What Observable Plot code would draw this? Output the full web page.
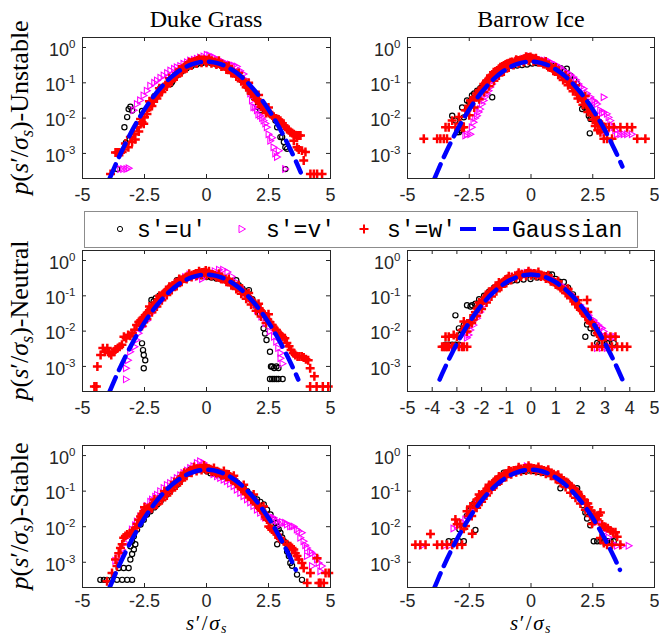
<!DOCTYPE html>
<html>
<head>
<meta charset="utf-8">
<script src="https://cdn.jsdelivr.net/npm/d3@7"></script>
<script src="https://cdn.jsdelivr.net/npm/@observablehq/plot@0.6"></script>
<style>
html,body{margin:0;padding:0;background:#fff;}
#root{position:relative;width:659px;height:638px;overflow:hidden;background:#fff;}
#overlay{position:absolute;left:0;top:0;pointer-events:none;}
</style>
</head>
<body>
<div id="root"></div>
<script>
// ---------- labels / ticks ----------
const colTitles = ["Duke Grass", "Barrow Ice"];
const rowNames = ["Unstable", "Neutral", "Stable"];
const xTicksA = [-5, -2.5, 0, 2.5, 5];
const xTickLabelsA = ["-5", "-2.5", "0", "2.5", "5"];
const xTicksB = [-5, -4, -3, -2, -1, 0, 1, 2, 3, 4, 5];
const xTickLabelsB = ["-5", "-4", "-3", "-2", "-1", "0", "1", "2", "3", "4", "5"];
const yTicks = [1e-3, 1e-2, 1e-1, 1];
const yTickLabels = ["10^-3", "10^-2", "10^-1", "10^0"];
const legendLabels = ["s'=u'", "s'=v'", "s'=w'", "Gaussian"];

// ---------- Gaussian reference curve ----------
const gaussX = [-3.9,-3.8,-3.7,-3.6,-3.4,-3.2,-3.0,-2.8,-2.6,-2.4,-2.2,-2.0,-1.8,-1.6,-1.4,-1.2,-1.0,-0.8,-0.6,-0.4,-0.2,0,0.2,0.4,0.6,0.8,1.0,1.2,1.4,1.6,1.8,2.0,2.2,2.4,2.6,2.8,3.0,3.2,3.4,3.6,3.7,3.8,3.9];
const gaussY = [1.99e-4,2.92e-4,4.25e-4,6.12e-4,1.23e-3,2.38e-3,4.43e-3,7.92e-3,1.36e-2,2.24e-2,3.55e-2,5.40e-2,7.90e-2,0.111,0.150,0.194,0.242,0.290,0.333,0.368,0.391,0.399,0.391,0.368,0.333,0.290,0.242,0.194,0.150,0.111,7.90e-2,5.40e-2,3.55e-2,2.24e-2,1.36e-2,7.92e-3,4.43e-3,2.38e-3,1.23e-3,6.12e-4,4.25e-4,2.92e-4,1.99e-4];
const gaussRanges = { tl: [-3.9, 3.8], tr: [-3.9, 3.7], ml: [-3.9, 3.7], mr: [-3.7, 3.8], bl: [-3.9, 3.6], br: [-3.9, 3.6] };

// ---------- Duke Grass, Unstable ----------
const tlU = [[-3.6,3.6e-4],[-3.31,5.5e-3],[-3.2,1.07e-2],[-3.14,1.8e-2],[-3.07,2.1e-2],[-3.0,1.65e-2],[-3.1,2.5e-3],[-3.25,2.0e-3],[-2.6,1.6e-2],[-2.3,2.6e-2],[-2.1,4.2e-2],[-1.86,7.2e-2],[-1.72,7.9e-2],[-1.45,9.3e-2],[-1.39,0.105],[-1.2,0.16],[-1.0,0.21],[-0.8,0.26],[-0.6,0.3],[-0.4,0.33],[-0.2,0.36],[0,0.37],[0.2,0.36],[0.4,0.33],[0.6,0.31],[0.8,0.27],[1.0,0.22],[1.2,0.17],[1.4,0.12],[1.6,0.08],[1.75,0.055],[1.9,0.039],[2.04,0.021],[2.17,0.0166],[2.38,0.018],[2.51,0.0148],[2.64,0.0118],[2.78,0.0085],[2.85,0.0055],[2.98,0.0029],[3.05,0.0029],[3.12,0.0021],[3.18,0.0015],[3.25,0.00135],[3.18,3.6e-4]];
const tlV = [[-3.47,3.6e-4],[-3.35,3.6e-4],[-3.22,3.6e-4],[-3.13,3.8e-4],[-2.93,0.0166],[-2.8,0.025],[-2.67,0.032],[-2.53,0.044],[-2.4,0.06],[-2.26,0.083],[-2.1,0.1],[-1.99,0.117],[-1.85,0.14],[-1.72,0.162],[-1.58,0.19],[-1.45,0.224],[-1.3,0.25],[-1.19,0.275],[-1.05,0.3],[-0.92,0.347],[-0.78,0.38],[-0.65,0.427],[-0.5,0.45],[-0.38,0.479],[-0.25,0.52],[-0.11,0.56],[0.02,0.62],[0.12,0.6],[0.29,0.54],[0.42,0.47],[0.56,0.427],[0.7,0.38],[0.83,0.347],[0.96,0.33],[1.1,0.31],[1.23,0.288],[1.36,0.22],[1.5,0.178],[1.6,0.12],[1.7,0.093],[1.77,0.05],[1.84,0.0316],[1.9,0.0204],[1.97,0.02],[2.04,0.0166],[2.1,0.0126],[2.17,0.0117],[2.25,0.01],[2.31,0.0085],[2.38,0.007],[2.44,0.0055],[2.51,0.0035],[2.58,0.0023],[2.65,0.0028],[2.71,0.0015],[2.78,0.001],[2.85,7.9e-4],[2.92,0.0012],[3.18,3.6e-4]];
const tlW = [[-3.87,2.6e-4],[-3.67,1.07e-3],[-3.6,1.07e-3],[-3.54,1.07e-3],[-3.4,1.1e-3],[-3.34,1.3e-3],[-3.27,1.9e-3],[-3.15,1.5e-3],[-3.07,2.9e-3],[-3.0,2.1e-3],[-2.93,3.5e-3],[-2.87,2.5e-3],[-2.8,5.5e-3],[-2.73,4.2e-3],[-2.66,6.9e-3],[-2.6,7.6e-3],[-2.53,6.9e-3],[-2.66,9.5e-3],[-2.5,0.0105],[-2.4,0.0166],[-2.33,0.02],[-2.26,0.025],[-2.2,0.029],[-2.13,0.035],[-2.06,0.04],[-1.99,0.044],[-1.92,0.05],[-1.86,0.06],[-1.79,0.068],[-1.72,0.076],[-1.65,0.085],[-1.59,0.093],[-1.52,0.105],[-1.45,0.117],[-1.38,0.13],[-1.32,0.15],[-1.25,0.165],[-1.19,0.186],[-1.12,0.2],[-1.05,0.234],[-0.98,0.25],[-0.92,0.275],[-0.85,0.29],[-0.78,0.32],[-0.72,0.34],[-0.65,0.363],[-0.58,0.38],[-0.51,0.398],[-0.44,0.41],[-0.38,0.427],[-0.31,0.43],[-0.25,0.427],[-0.18,0.44],[-0.11,0.447],[-0.05,0.43],[0.02,0.427],[0.09,0.44],[0.16,0.407],[0.22,0.42],[0.29,0.38],[0.36,0.39],[0.43,0.363],[0.5,0.355],[0.56,0.331],[0.63,0.32],[0.7,0.302],[0.77,0.29],[0.83,0.275],[0.9,0.25],[0.96,0.234],[1.03,0.215],[1.1,0.2],[1.17,0.186],[1.23,0.174],[1.3,0.155],[1.37,0.138],[1.44,0.125],[1.5,0.112],[1.57,0.095],[1.64,0.083],[1.7,0.072],[1.77,0.063],[1.84,0.055],[1.9,0.049],[1.97,0.041],[2.04,0.035],[2.1,0.03],[2.17,0.026],[2.24,0.023],[2.31,0.0204],[2.38,0.0178],[2.44,0.0155],[2.51,0.014],[2.58,0.0132],[2.65,0.012],[2.71,0.0107],[2.78,0.0098],[2.85,0.0095],[2.91,0.0091],[2.98,0.0085],[3.05,0.0072],[3.12,0.0062],[3.18,0.0058],[3.25,0.005],[3.32,0.0045],[3.38,0.004],[3.45,0.0038],[3.52,0.0035],[3.58,0.0033],[3.65,0.0032],[3.72,0.0032],[3.79,0.0032],[3.52,0.0023],[3.65,0.0015],[3.72,0.0013],[3.85,0.0012],[3.99,0.0011],[3.92,6.3e-4],[4.19,2.6e-4],[4.33,2.6e-4],[4.46,2.6e-4],[4.66,2.6e-4]];
const tlW2 = [[-2.4,0.013],[-2.2,0.022],[-2.0,0.036],[-1.8,0.055],[-1.6,0.078],[-1.4,0.11],[-1.2,0.15],[-1.0,0.2],[-0.8,0.26],[-0.6,0.31],[-0.4,0.35],[-0.2,0.37],[0.0,0.37],[0.2,0.36],[0.4,0.33],[0.6,0.29],[0.8,0.24],[1.0,0.19],[1.2,0.15],[1.4,0.11],[1.6,0.075],[1.8,0.05],[2.0,0.033],[2.2,0.021],[2.4,0.014],[-2.3,0.03],[-1.9,0.07],[-1.5,0.135],[-1.1,0.24],[-0.7,0.38],[-0.3,0.47],[0.1,0.48],[0.5,0.42],[0.9,0.3],[1.3,0.19],[1.7,0.1],[2.1,0.045],[2.5,0.02]];

// ---------- Barrow Ice, Unstable ----------
const trU = [[-3.19,0.0117],[-3.06,0.0085],[-2.99,0.004],[-2.92,0.004],[-2.85,0.0045],[-2.79,0.02],[-2.72,0.0105],[-2.59,0.0316],[-2.5,0.028],[-2.39,0.044],[-2.3,0.05],[-2.18,0.06],[-2.05,0.07],[-1.98,0.076],[-1.57,0.039],[-1.8,0.1],[-1.6,0.13],[-1.37,0.2],[-1.2,0.24],[-0.97,0.275],[-0.75,0.3],[-0.56,0.31],[-0.36,0.32],[-0.16,0.33],[0.05,0.35],[0.25,0.36],[0.45,0.35],[0.65,0.347],[0.85,0.31],[1.06,0.275],[1.2,0.26],[1.33,0.22],[1.45,0.25],[1.6,0.16],[1.75,0.12],[1.87,0.093],[2.0,0.05],[2.07,0.0182],[2.17,0.02],[2.27,0.0166],[2.34,0.0117],[2.41,0.0095],[2.38,0.0037],[2.5,0.012]];
const trV = [[-2.65,0.0032],[-2.58,0.0035],[-2.45,0.0035],[-2.39,0.0055],[-2.32,0.0076],[-2.25,0.01],[-2.18,0.0117],[-2.11,0.015],[-2.05,0.018],[-1.98,0.025],[-1.91,0.0316],[-1.84,0.04],[-1.78,0.049],[-1.71,0.06],[-1.64,0.076],[-1.57,0.093],[-1.51,0.117],[-1.44,0.14],[-1.37,0.162],[-1.24,0.2],[-1.1,0.25],[-0.97,0.29],[-0.83,0.33],[-0.7,0.36],[-0.56,0.4],[-0.43,0.43],[-0.29,0.48],[-0.16,0.5],[-0.02,0.56],[0.11,0.5],[0.25,0.46],[0.38,0.45],[0.52,0.43],[0.65,0.427],[0.79,0.39],[0.92,0.34],[1.06,0.31],[1.19,0.27],[1.33,0.22],[1.46,0.2],[1.6,0.17],[1.73,0.145],[1.83,0.12],[1.93,0.093],[2.03,0.075],[2.14,0.068],[2.27,0.05],[2.41,0.0398],[2.54,0.0316],[2.61,0.0282],[2.68,0.025],[2.95,0.039],[2.81,0.0166],[2.88,0.014],[2.95,0.0145],[3.08,0.0132],[3.15,0.0105],[3.22,0.0085],[3.28,0.0063],[3.35,0.0055],[3.42,0.0045],[3.49,0.0035],[3.62,0.0035],[3.76,0.0035],[3.9,0.0035],[4.09,0.0035],[2.95,0.0045],[3.02,0.004]];
const trW = [[-4.34,0.0026],[-3.8,0.0026],[-3.67,0.0026],[-3.53,0.0026],[-3.4,0.0026],[-3.46,0.0055],[-3.33,0.0055],[-3.19,0.0085],[-3.06,0.0055],[-2.92,0.0107],[-2.86,0.007],[-2.79,0.0055],[-2.72,0.0055],[-2.65,0.0166],[-2.59,0.0166],[-2.52,0.0224],[-2.45,0.0316],[-2.38,0.0316],[-2.32,0.035],[-2.25,0.04],[-2.18,0.039],[-2.11,0.06],[-2.04,0.063],[-1.98,0.07],[-1.91,0.093],[-1.84,0.1],[-1.78,0.117],[-1.71,0.13],[-1.64,0.162],[-1.57,0.17],[-1.51,0.2],[-1.44,0.21],[-1.37,0.224],[-1.3,0.25],[-1.24,0.275],[-1.17,0.29],[-1.1,0.31],[-1.03,0.33],[-0.97,0.347],[-0.9,0.36],[-0.83,0.38],[-0.76,0.39],[-0.63,0.41],[-0.56,0.42],[-0.5,0.427],[-0.43,0.44],[-0.36,0.45],[-0.29,0.479],[-0.22,0.49],[-0.16,0.513],[-0.09,0.52],[-0.02,0.537],[0.05,0.5],[0.11,0.479],[0.18,0.46],[0.25,0.427],[0.31,0.42],[0.38,0.38],[0.45,0.39],[0.52,0.363],[0.58,0.34],[0.65,0.31],[0.72,0.3],[0.79,0.275],[0.85,0.26],[0.92,0.25],[0.99,0.23],[1.06,0.214],[1.12,0.19],[1.19,0.178],[1.26,0.16],[1.33,0.145],[1.39,0.13],[1.46,0.117],[1.53,0.105],[1.6,0.093],[1.66,0.08],[1.73,0.072],[1.8,0.062],[1.87,0.054],[1.93,0.045],[2.0,0.039],[2.07,0.0355],[2.14,0.0316],[2.2,0.028],[2.27,0.0229],[2.34,0.02],[2.41,0.0166],[2.47,0.014],[2.54,0.0117],[2.61,0.0105],[2.68,0.0085],[2.74,0.008],[2.81,0.0069],[2.88,0.006],[2.95,0.0055],[3.02,0.0055],[3.15,0.0055],[3.35,0.0055],[3.62,0.0055],[3.89,0.0055],[4.09,0.0055],[2.81,0.004],[2.95,0.0026],[3.08,0.0026],[3.28,0.0026],[4.3,0.0026],[4.63,0.0026],[2.7,0.0045],[2.6,0.006]];
const trW2 = [[-2.5,0.012],[-2.3,0.02],[-2.1,0.034],[-1.9,0.055],[-1.7,0.08],[-1.5,0.115],[-1.3,0.16],[-1.1,0.21],[-0.9,0.27],[-0.7,0.32],[-0.5,0.36],[-0.3,0.39],[-0.1,0.42],[0.1,0.41],[0.3,0.38],[0.5,0.34],[0.7,0.28],[0.9,0.22],[1.1,0.17],[1.3,0.12],[1.5,0.085],[1.7,0.058],[1.9,0.036],[2.1,0.024],[2.3,0.015],[2.5,0.009],[-2.2,0.05],[-1.8,0.11],[-1.4,0.2],[-1.0,0.32],[-0.6,0.45],[-0.2,0.55],[0.2,0.5],[0.6,0.4],[1.0,0.27],[1.4,0.16],[1.8,0.085],[2.2,0.042]];

// ---------- Duke Grass, Neutral ----------
const mlU = [[-2.56,0.0029],[-2.53,0.0021],[-2.47,0.0015],[-2.53,8.9e-4],[-2.6,0.0045],[-2.22,0.076],[-2.13,0.07],[-2.05,0.085],[-1.9,0.1],[-1.7,0.12],[-1.5,0.15],[-1.3,0.2],[-1.19,0.275],[-1.0,0.3],[-0.85,0.33],[-0.6,0.36],[-0.4,0.37],[-0.2,0.36],[0,0.34],[0.2,0.33],[0.4,0.31],[0.6,0.29],[0.8,0.27],[1.0,0.25],[1.2,0.275],[1.3,0.2],[1.45,0.158],[1.55,0.13],[1.71,0.145],[1.85,0.08],[2.0,0.05],[2.15,0.03],[2.3,0.012],[2.36,0.0085],[2.42,0.0056],[2.56,0.0026],[2.6,0.001],[2.65,0.001],[2.73,9e-4],[2.82,0.001],[2.56,4.4e-4],[2.65,4.4e-4],[2.73,4.4e-4],[2.82,4.4e-4],[2.9,4.4e-4],[3.07,4.4e-4],[2.9,9e-4]];
const mlV = [[-3.24,4.3e-4],[-3.24,8.9e-4],[-3.16,0.0015],[-3.07,0.0026],[-2.9,0.0036],[-2.82,0.0056],[-2.73,0.0087],[-2.56,0.0135],[-2.39,0.02],[-2.22,0.032],[-2.05,0.047],[-1.88,0.068],[-1.71,0.093],[-1.54,0.129],[-1.37,0.178],[-1.19,0.23],[-1.02,0.29],[-0.85,0.34],[-0.68,0.4],[-0.51,0.38],[-0.34,0.34],[-0.17,0.3],[0.0,0.355],[0.17,0.43],[0.34,0.5],[0.51,0.55],[0.68,0.55],[0.85,0.47],[1.02,0.355],[1.19,0.245],[1.37,0.178],[1.54,0.12],[1.71,0.083],[1.88,0.054],[2.05,0.039],[2.22,0.026],[2.39,0.0166],[2.56,0.0098],[2.73,0.0069],[2.82,0.005],[2.9,0.0033],[2.99,0.0024],[2.99,0.0017],[3.07,0.0012]];
const mlW = [[-4.52,2.7e-4],[-4.44,2.7e-4],[-4.4,1e-3],[-4.27,0.0021],[-4.18,0.0033],[-4.1,0.0026],[-4.0,0.0033],[-3.92,0.0024],[-3.84,0.0021],[-3.75,0.0026],[-3.67,0.003],[-3.58,0.0033],[-3.5,0.0036],[-3.41,0.0041],[-3.33,0.0069],[-3.24,0.0063],[-3.16,0.0078],[-3.07,0.0074],[-2.99,0.0087],[-2.9,0.011],[-2.82,0.0148],[-2.73,0.018],[-2.65,0.0204],[-2.56,0.024],[-2.47,0.0282],[-2.39,0.033],[-2.3,0.039],[-2.22,0.046],[-2.13,0.054],[-2.05,0.065],[-1.96,0.076],[-1.88,0.09],[-1.79,0.105],[-1.71,0.12],[-1.62,0.138],[-1.54,0.155],[-1.45,0.178],[-1.37,0.195],[-1.28,0.219],[-1.19,0.24],[-1.11,0.263],[-1.02,0.28],[-0.94,0.302],[-0.85,0.32],[-0.77,0.339],[-0.68,0.355],[-0.6,0.38],[-0.51,0.4],[-0.43,0.427],[-0.34,0.43],[-0.26,0.447],[-0.17,0.46],[-0.09,0.468],[-0.03,0.525],[0.05,0.44],[0.09,0.427],[0.17,0.41],[0.26,0.398],[0.34,0.38],[0.43,0.355],[0.51,0.33],[0.6,0.316],[0.68,0.3],[0.77,0.288],[0.85,0.263],[0.94,0.245],[1.02,0.22],[1.11,0.209],[1.19,0.186],[1.28,0.17],[1.37,0.151],[1.45,0.138],[1.54,0.12],[1.62,0.107],[1.71,0.09],[1.79,0.079],[1.88,0.068],[1.96,0.06],[2.05,0.051],[2.13,0.044],[2.22,0.036],[2.3,0.0316],[2.39,0.026],[2.47,0.0214],[2.56,0.0178],[2.65,0.0148],[2.73,0.0123],[2.82,0.0107],[2.9,0.0089],[2.99,0.0078],[3.07,0.0068],[3.16,0.0063],[3.24,0.0046],[3.33,0.0037],[3.41,0.0029],[3.5,0.0024],[3.58,0.0021],[3.67,0.0019],[3.75,0.0019],[3.84,0.0019],[3.92,0.0018],[4.01,0.0016],[4.1,0.0015],[4.18,8.9e-4],[4.35,5.3e-4],[4.18,2.7e-4],[4.44,2.7e-4],[4.69,2.7e-4],[4.91,2.7e-4]];
const mlW2 = [[-2.6,0.014],[-2.4,0.022],[-2.2,0.034],[-2.0,0.05],[-1.8,0.075],[-1.6,0.105],[-1.4,0.145],[-1.2,0.19],[-1.0,0.25],[-0.8,0.3],[-0.6,0.34],[-0.4,0.37],[-0.2,0.39],[0.0,0.38],[0.2,0.37],[0.4,0.34],[0.6,0.3],[0.8,0.25],[1.0,0.2],[1.2,0.155],[1.4,0.115],[1.6,0.082],[1.8,0.057],[2.0,0.038],[2.2,0.026],[2.4,0.017],[-2.3,0.05],[-1.9,0.1],[-1.5,0.18],[-1.1,0.3],[-0.7,0.42],[-0.3,0.5],[0.1,0.5],[0.5,0.42],[0.9,0.3],[1.3,0.2],[1.7,0.12],[2.1,0.06],[2.5,0.03]];

// ---------- Barrow Ice, Neutral ----------
const mrU = [[-3.46,0.0041],[-3.33,0.0041],[-3.19,0.0041],[-3.06,0.0041],[-2.92,0.0041],[-3.06,0.028],[-2.92,0.012],[-2.86,0.0078],[-2.79,0.0105],[-2.72,0.0148],[-2.59,0.054],[-2.45,0.05],[-2.38,0.054],[-2.25,0.06],[-2.1,0.08],[-1.9,0.1],[-1.7,0.13],[-1.5,0.17],[-1.3,0.21],[-1.1,0.23],[-0.97,0.245],[-0.75,0.27],[-0.56,0.275],[-0.3,0.29],[-0.02,0.3],[0.25,0.33],[0.52,0.38],[0.72,0.4],[0.85,0.4],[1.0,0.3],[1.15,0.25],[1.33,0.245],[1.5,0.17],[1.7,0.11],[1.87,0.054],[2.0,0.045],[2.14,0.03],[2.2,0.0069],[2.27,0.0155],[2.41,0.012],[2.54,0.0087],[2.68,0.0046],[2.81,0.0046],[2.95,0.0046],[3.08,0.0046],[3.15,0.0046],[3.35,0.0046]];
const mrV = [[-3.46,0.0036],[-3.26,0.0036],[-3.0,0.0036],[-2.72,0.0036],[-2.59,0.0065],[-2.52,0.0078],[-2.45,0.0107],[-2.32,0.0148],[-2.18,0.023],[-2.05,0.035],[-1.91,0.054],[-1.78,0.076],[-1.64,0.105],[-1.51,0.13],[-1.37,0.158],[-1.24,0.19],[-1.1,0.219],[-0.97,0.26],[-0.83,0.3],[-0.7,0.34],[-0.56,0.38],[-0.43,0.41],[-0.29,0.427],[-0.16,0.45],[-0.02,0.47],[0.11,0.45],[0.25,0.427],[0.38,0.41],[0.52,0.38],[0.65,0.35],[0.79,0.316],[0.92,0.28],[1.06,0.245],[1.19,0.21],[1.33,0.178],[1.46,0.14],[1.6,0.115],[1.73,0.093],[1.87,0.076],[2.0,0.055],[2.14,0.044],[2.27,0.0316],[2.34,0.028],[2.44,0.0224],[2.54,0.0204],[2.64,0.0166],[2.74,0.0148],[2.81,0.0126],[2.88,0.012],[2.95,0.0098],[3.01,0.0069],[3.15,0.0069],[3.28,0.0069],[3.42,0.0069],[2.68,0.0033],[2.88,0.0033],[3.08,0.0033],[3.28,0.0033],[3.15,0.0036]];
const mrW = [[-3.6,0.0036],[-3.53,0.0036],[-3.46,0.0036],[-3.4,0.0036],[-3.33,0.0036],[-3.2,0.0036],[-3.13,0.0036],[-2.92,0.0036],[-2.79,0.0036],[-2.72,0.0036],[-2.59,0.0036],[-3.46,0.0069],[-3.33,0.0069],[-3.13,0.0078],[-3.0,0.0069],[-2.79,0.0107],[-2.72,0.0186],[-2.65,0.0135],[-2.59,0.0098],[-2.52,0.0148],[-2.45,0.0204],[-2.38,0.0204],[-2.32,0.028],[-2.25,0.034],[-2.18,0.044],[-2.11,0.05],[-2.05,0.06],[-1.98,0.068],[-1.91,0.076],[-1.84,0.09],[-1.78,0.105],[-1.71,0.115],[-1.64,0.129],[-1.57,0.14],[-1.51,0.158],[-1.44,0.17],[-1.37,0.19],[-1.3,0.2],[-1.24,0.219],[-1.17,0.235],[-1.1,0.257],[-1.03,0.275],[-0.97,0.3],[-0.9,0.31],[-0.77,0.339],[-0.63,0.36],[-0.56,0.38],[-0.43,0.39],[-0.36,0.407],[-0.22,0.42],[-0.16,0.427],[-0.02,0.437],[0.11,0.427],[0.18,0.42],[0.31,0.398],[0.38,0.39],[0.52,0.363],[0.58,0.35],[0.72,0.302],[0.79,0.29],[0.92,0.245],[0.99,0.24],[1.12,0.19],[1.19,0.18],[1.33,0.145],[1.49,0.158],[1.46,0.125],[1.6,0.105],[1.66,0.093],[1.8,0.068],[1.87,0.06],[1.93,0.049],[2.0,0.042],[2.07,0.037],[2.14,0.0316],[2.2,0.028],[2.27,0.0759],[2.34,0.0204],[2.41,0.0178],[2.47,0.0166],[2.54,0.0141],[2.61,0.012],[2.68,0.0087],[2.74,0.0078],[2.81,0.0069],[2.88,0.0056],[3.01,0.0069],[3.22,0.0069],[3.42,0.0069],[2.47,0.0036],[2.68,0.0036],[2.88,0.0036],[3.08,0.0036],[3.28,0.0036],[3.49,0.0036],[3.69,0.0036],[3.89,0.0036]];
const mrW2 = [[-2.4,0.017],[-2.2,0.027],[-2.0,0.042],[-1.8,0.065],[-1.6,0.095],[-1.4,0.135],[-1.2,0.18],[-1.0,0.23],[-0.8,0.28],[-0.6,0.32],[-0.4,0.35],[-0.2,0.37],[0.0,0.38],[0.2,0.37],[0.4,0.35],[0.6,0.31],[0.8,0.26],[1.0,0.21],[1.2,0.165],[1.4,0.12],[1.6,0.085],[1.8,0.058],[2.0,0.04],[2.2,0.027],[2.4,0.017],[-2.1,0.065],[-1.7,0.13],[-1.3,0.24],[-0.9,0.36],[-0.5,0.45],[-0.1,0.5],[0.3,0.47],[0.7,0.38],[1.1,0.26],[1.5,0.15],[1.9,0.075],[2.3,0.035]];

// ---------- Duke Grass, Stable ----------
const blU = [[-4.28,3.2e-4],[-4.14,3.2e-4],[-4.01,3.2e-4],[-3.81,3.2e-4],[-3.61,3.2e-4],[-3.4,3.2e-4],[-3.2,3.2e-4],[-3.0,3.2e-4],[-3.54,6.9e-4],[-3.34,6.9e-4],[-3.14,6.9e-4],[-3.07,0.0012],[-3.0,0.0017],[-2.93,0.0023],[-2.87,0.0032],[-3.07,0.0028],[-3.0,0.0039],[-2.93,0.0054],[-2.8,0.0083],[-2.66,0.0115],[-2.53,0.0158],[-2.4,0.0219],[-2.26,0.027],[-2.1,0.035],[-1.99,0.042],[-1.85,0.053],[-1.72,0.065],[-1.6,0.08],[-1.46,0.1],[-1.3,0.13],[-1.19,0.15],[-1.05,0.2],[-0.92,0.26],[-0.78,0.33],[-0.65,0.41],[-0.5,0.43],[-0.38,0.45],[-0.25,0.43],[-0.11,0.41],[0.02,0.36],[0.16,0.32],[0.3,0.31],[0.43,0.3],[0.56,0.28],[0.7,0.26],[0.83,0.25],[0.96,0.234],[1.1,0.2],[1.23,0.17],[1.37,0.14],[1.5,0.123],[1.64,0.1],[1.77,0.079],[1.9,0.068],[2.04,0.058],[2.17,0.05],[2.31,0.042],[2.44,0.03],[2.58,0.022],[2.71,0.0158],[2.78,0.0126],[2.85,0.0102],[2.91,0.0085],[2.98,0.0068],[3.05,0.005],[3.12,0.0039],[3.25,0.0032],[2.85,0.0032],[3.25,0.002],[3.32,0.0015],[3.38,9.5e-4],[3.45,8e-4],[3.65,4.5e-4],[3.85,3.2e-4]];
const blV = [[-3.67,0.0011],[-3.54,0.0015],[-3.4,0.0023],[-3.27,0.0035],[-3.13,0.0054],[-3.0,0.0083],[-2.87,0.011],[-2.8,0.0141],[-2.66,0.0195],[-2.53,0.03],[-2.4,0.038],[-2.26,0.05],[-2.19,0.058],[-2.06,0.07],[-1.99,0.079],[-1.86,0.1],[-1.72,0.123],[-1.59,0.15],[-1.46,0.17],[-1.32,0.2],[-1.19,0.234],[-1.05,0.28],[-0.92,0.324],[-0.78,0.38],[-0.65,0.447],[-0.52,0.5],[-0.38,0.617],[-0.25,0.69],[-0.11,0.617],[0.02,0.5],[0.09,0.41],[0.29,0.3],[0.43,0.26],[0.56,0.234],[0.7,0.21],[0.83,0.19],[0.96,0.16],[1.1,0.138],[1.23,0.11],[1.37,0.089],[1.5,0.072],[1.64,0.058],[1.77,0.048],[1.9,0.038],[2.04,0.03],[2.17,0.0245],[2.31,0.0195],[2.38,0.0178],[2.51,0.0195],[2.58,0.0195],[2.71,0.0178],[2.78,0.0155],[2.85,0.0141],[2.98,0.0115],[3.05,0.0135],[3.18,0.0129],[3.25,0.0115],[3.38,0.0102],[3.45,0.0102],[3.52,0.0102],[3.65,0.0083],[3.72,0.0075],[3.85,0.0068],[3.79,0.0049],[3.92,0.0039],[3.99,0.003],[4.06,0.0025],[4.19,0.002],[4.26,0.0018],[4.39,0.0015],[4.46,0.0012],[4.53,9.5e-4],[4.66,7.8e-4],[4.06,0.0015],[4.26,7.8e-4],[4.6,5.6e-4]];
const blW = [[-4.01,2.9e-4],[-3.81,5e-4],[-3.61,7.8e-4],[-3.67,0.0012],[-3.54,0.0018],[-3.47,0.0025],[-3.4,0.0032],[-3.34,0.0049],[-3.27,0.0055],[-3.2,0.006],[-3.1,0.0065],[-3.0,0.0068],[-2.93,0.0078],[-2.87,0.0093],[-2.8,0.012],[-2.73,0.0158],[-2.66,0.0195],[-2.6,0.023],[-2.53,0.027],[-2.46,0.03],[-2.4,0.032],[-2.33,0.034],[-2.26,0.037],[-2.2,0.04],[-2.13,0.042],[-2.06,0.047],[-1.99,0.052],[-1.93,0.058],[-1.86,0.065],[-1.79,0.072],[-1.72,0.079],[-1.65,0.089],[-1.59,0.1],[-1.52,0.11],[-1.45,0.123],[-1.38,0.135],[-1.32,0.15],[-1.25,0.17],[-1.18,0.19],[-1.12,0.214],[-1.05,0.234],[-0.98,0.26],[-0.92,0.275],[-0.85,0.3],[-0.78,0.324],[-0.72,0.339],[-0.65,0.363],[-0.58,0.38],[-0.51,0.407],[-0.44,0.42],[-0.38,0.427],[-0.31,0.427],[-0.24,0.44],[-0.18,0.437],[-0.11,0.447],[-0.04,0.45],[0.02,0.44],[0.09,0.427],[0.16,0.41],[0.22,0.39],[0.29,0.363],[0.36,0.355],[0.43,0.347],[0.49,0.339],[0.56,0.324],[0.63,0.31],[0.7,0.295],[0.77,0.3],[0.83,0.295],[0.9,0.295],[0.96,0.26],[1.03,0.234],[1.1,0.214],[1.17,0.19],[1.23,0.17],[1.3,0.15],[1.37,0.135],[1.44,0.123],[1.5,0.11],[1.57,0.1],[1.64,0.089],[1.7,0.079],[1.77,0.07],[1.84,0.062],[1.9,0.058],[1.97,0.05],[2.04,0.044],[2.11,0.038],[2.17,0.032],[2.24,0.028],[2.31,0.0245],[2.38,0.0195],[2.44,0.0158],[2.51,0.0102],[2.58,0.0093],[2.64,0.0083],[2.71,0.0075],[2.78,0.0068],[2.85,0.006],[2.91,0.0049],[2.98,0.0045],[3.12,0.0039],[3.25,0.0032],[3.38,0.0028],[3.45,0.0025],[3.52,0.0023],[3.58,0.0018],[3.65,0.0015],[3.72,0.0012],[3.85,9.5e-4],[3.92,6.9e-4],[4.06,2.6e-4],[4.19,5e-4],[4.46,0.0013],[4.53,2.6e-4],[4.6,2.6e-4],[4.73,2.6e-4],[4.93,5e-4],[4.8,5e-4]];
const blW2 = [[-2.6,0.018],[-2.4,0.026],[-2.2,0.033],[-2.0,0.042],[-1.8,0.055],[-1.6,0.075],[-1.4,0.105],[-1.2,0.145],[-1.0,0.2],[-0.8,0.27],[-0.6,0.33],[-0.4,0.37],[-0.2,0.39],[0.0,0.39],[0.2,0.36],[0.4,0.32],[0.6,0.28],[0.8,0.25],[1.0,0.21],[1.2,0.16],[1.4,0.115],[1.6,0.082],[1.8,0.058],[2.0,0.042],[2.2,0.03],[2.4,0.018],[-2.5,0.035],[-2.1,0.058],[-1.7,0.1],[-1.3,0.18],[-0.9,0.33],[-0.5,0.48],[-0.1,0.53],[0.3,0.45],[0.7,0.37],[1.1,0.27],[1.5,0.15],[1.9,0.08],[2.3,0.037]];

// ---------- Barrow Ice, Stable ----------
const brU = [[-3.33,0.0039],[-3.13,0.0039],[-2.92,0.0039],[-2.72,0.0039],[-2.25,0.0081],[-2.9,0.0085],[-2.6,0.02],[-2.45,0.03],[-2.3,0.045],[-2.1,0.06],[-1.9,0.08],[-1.7,0.12],[-1.44,0.2],[-1.3,0.22],[-1.1,0.33],[-0.9,0.33],[-0.7,0.35],[-0.5,0.36],[-0.3,0.37],[-0.1,0.38],[0.1,0.37],[0.3,0.35],[0.5,0.33],[0.7,0.3],[0.9,0.27],[1.19,0.12],[1.1,0.24],[1.3,0.2],[1.5,0.16],[1.7,0.12],[1.87,0.12],[2.0,0.06],[2.1,0.04],[2.2,0.025],[2.27,0.017],[2.4,0.011],[2.54,0.017],[2.54,0.0039],[2.68,0.0039],[2.81,0.0039],[2.95,0.0039],[3.08,0.0039],[3.22,0.0039],[3.35,0.0039]];
const brV = [[-3.13,0.0089],[-2.99,0.011],[-2.79,0.0135],[-2.65,0.016],[-2.52,0.02],[-2.38,0.028],[-2.18,0.042],[-1.98,0.058],[-1.78,0.085],[-1.51,0.13],[-1.24,0.19],[-0.97,0.27],[-0.7,0.35],[-0.43,0.42],[-0.16,0.5],[0.11,0.46],[0.38,0.42],[0.65,0.35],[0.92,0.28],[1.19,0.21],[1.46,0.155],[1.73,0.1],[2.0,0.066],[2.27,0.038],[2.47,0.02],[2.68,0.0135],[2.88,0.01],[2.95,0.007],[3.15,0.005],[3.35,0.0031],[3.49,0.0029],[3.69,0.0029],[3.96,0.0029],[-4.41,0.0029],[-3.5,0.0029],[-3.3,0.0029]];
const brW = [[-4.68,0.0031],[-4.48,0.0031],[-4.27,0.0031],[-4.07,0.0062],[-3.8,0.0031],[-3.6,0.0031],[-3.4,0.0031],[-3.19,0.0031],[-2.99,0.0031],[-2.79,0.0031],[-3.06,0.016],[-2.99,0.0118],[-2.86,0.012],[-2.72,0.0087],[-2.65,0.0105],[-2.59,0.027],[-2.52,0.02],[-2.45,0.037],[-2.38,0.0063],[-2.32,0.046],[-2.25,0.035],[-2.18,0.058],[-2.11,0.063],[-2.05,0.07],[-1.98,0.08],[-1.91,0.093],[-1.84,0.1],[-1.78,0.117],[-1.71,0.13],[-1.64,0.145],[-1.57,0.16],[-1.51,0.18],[-1.44,0.2],[-1.37,0.21],[-1.3,0.23],[-1.24,0.245],[-1.17,0.26],[-1.1,0.29],[-1.0,0.31],[-0.9,0.33],[-0.8,0.36],[-0.7,0.38],[-0.6,0.39],[-0.5,0.41],[-0.4,0.42],[-0.29,0.43],[-0.2,0.44],[-0.09,0.46],[0.01,0.45],[0.11,0.43],[0.2,0.42],[0.31,0.41],[0.42,0.4],[0.52,0.38],[0.62,0.36],[0.72,0.34],[0.82,0.32],[0.92,0.3],[1.02,0.27],[1.12,0.245],[1.22,0.22],[1.33,0.2],[1.43,0.18],[1.53,0.155],[1.63,0.135],[1.73,0.117],[1.83,0.1],[1.93,0.08],[2.03,0.068],[2.14,0.058],[2.24,0.046],[2.34,0.035],[2.44,0.028],[2.54,0.023],[2.61,0.019],[2.68,0.016],[2.74,0.021],[2.81,0.025],[2.88,0.0115],[2.47,0.012],[2.95,0.01],[3.01,0.0098],[3.11,0.009],[3.22,0.0078],[3.32,0.007],[3.42,0.007],[3.49,0.0052],[2.81,0.0048],[2.95,0.0035],[3.08,0.0031],[3.28,0.0031],[3.62,0.0031]];
const brW2 = [[-2.4,0.02],[-2.2,0.034],[-2.0,0.05],[-1.8,0.075],[-1.6,0.11],[-1.4,0.15],[-1.2,0.2],[-1.0,0.25],[-0.8,0.3],[-0.6,0.34],[-0.4,0.36],[-0.2,0.38],[0.0,0.39],[0.2,0.37],[0.4,0.35],[0.6,0.31],[0.8,0.27],[1.0,0.22],[1.2,0.17],[1.4,0.13],[1.6,0.09],[1.8,0.065],[2.0,0.045],[2.2,0.03],[2.4,0.02],[-2.1,0.08],[-1.7,0.15],[-1.3,0.26],[-0.9,0.38],[-0.5,0.47],[-0.1,0.52],[0.3,0.48],[0.7,0.4],[1.1,0.29],[1.5,0.17],[1.9,0.095],[2.3,0.045]];

// ---------- drawing ----------
const root = document.getElementById("root");
const NS = "http://www.w3.org/2000/svg";
const yDomain = [1.95e-4, 1.92];
const M = {l: 62, r: 8, t: 8, b: 36};

const triRight = {
  draw(ctx, size) {
    const r = Math.sqrt(size / Math.PI);
    ctx.moveTo(r, 0);
    ctx.lineTo(-r * 0.8, -r);
    ctx.lineTo(-r * 0.8, r);
    ctx.closePath();
  }
};

function panel(u, v, w, gRange, xt, xl, box, pad) {
  const [bx, by, bw, bh] = box;
  const gauss = gaussX.map((x, i) => ({x, y: gaussY[i]}))
    .filter(d => d.x >= gRange[0] - 1e-9 && d.x <= gRange[1] + 1e-9);
  const svg = Plot.plot({
    width: bw + M.l + M.r, height: bh + M.t + M.b,
    marginLeft: M.l, marginRight: M.r, marginTop: M.t, marginBottom: M.b,
    style: {background: "transparent", color: "#262626", fontFamily: "'Liberation Sans', Arial, sans-serif", fontSize: "18px", overflow: "visible"},
    x: {domain: [-5, 5]},
    y: {type: "log", domain: yDomain},
    marks: [
      Plot.dot(u, {x: d => d[0], y: d => d[1], r: 2.6, stroke: "#000000", strokeWidth: 1.2, fill: "none"}),
      Plot.dot(v, {x: d => d[0], y: d => d[1], symbol: triRight, r: 3.3, stroke: "#ff00ff", strokeWidth: 1.1, fill: "none"}),
      Plot.dot(w, {x: d => d[0], y: d => d[1], symbol: "plus", r: 3, stroke: "#ff0000", strokeWidth: 2.5, fill: "none"}),
      Plot.line(gauss, {x: "x", y: "y", stroke: "#0000ff", strokeWidth: 4.5, strokeDasharray: "15,8", curve: "monotone-x", clip: true}),
      Plot.ruleX(xt, {insetTop: bh - 4, stroke: "#262626"}),
      Plot.ruleX(xt, {insetBottom: bh - 4, stroke: "#262626"}),
      Plot.ruleY(yTicks, {insetLeft: bw - 4, stroke: "#262626"}),
      Plot.ruleY(yTicks, {insetRight: bw - 4, stroke: "#262626"}),
      Plot.frame({stroke: "#262626"}),
      Plot.axisX({ticks: xt, tickSize: 0, tickPadding: pad, tickFormat: d => xl[xt.indexOf(d)], label: null}),
      Plot.axisY({ticks: yTicks, tickSize: 0, tickPadding: 7, tickFormat: d => yTickLabels[yTicks.indexOf(d)], label: null})
    ]
  });
  svg.style.position = "absolute";
  svg.style.left = (bx - M.l) + "px";
  svg.style.top = (by - M.t) + "px";
  svg.querySelectorAll("text").forEach(t => {
    const s = t.textContent;
    if (s.includes("^")) {
      const [base, ex] = s.split("^");
      t.textContent = "";
      const a = document.createElementNS(NS, "tspan");
      a.setAttribute("dy", "2.5");
      a.textContent = base;
      const b = document.createElementNS(NS, "tspan");
      b.setAttribute("dy", "-8");
      b.setAttribute("font-size", "11.5");
      b.textContent = ex;
      t.appendChild(a); t.appendChild(b);
    }
  });
  root.appendChild(svg);
}

panel(tlU, tlV, tlW.concat(tlW2), gaussRanges.tl, xTicksA, xTickLabelsA, [82, 37, 248, 141], 10);
panel(trU, trV, trW.concat(trW2), gaussRanges.tr, xTicksA, xTickLabelsA, [407, 37, 247, 141], 10);
panel(mlU, mlV, mlW.concat(mlW2), gaussRanges.ml, xTicksA, xTickLabelsA, [82, 250, 248, 141], 10);
panel(mrU, mrV, mrW.concat(mrW2), gaussRanges.mr, xTicksB, xTickLabelsB, [407, 250, 247, 141], 10);
panel(blU, blV, blW.concat(blW2), gaussRanges.bl, xTicksA, xTickLabelsA, [82, 445, 248, 142], 7);
panel(brU, brV, brW.concat(brW2), gaussRanges.br, xTicksA, xTickLabelsA, [407, 445, 247, 142], 7);

// ---------- titles, axis labels, legend ----------
function ylab(cx, cy, name) {
  return `<text transform="translate(${cx},${cy}) rotate(-90)" text-anchor="middle" font-size="26"><tspan font-style="italic">p</tspan>(<tspan font-style="italic">s</tspan>′/<tspan font-style="italic">σ</tspan><tspan font-style="italic" font-size="18" dy="5">s</tspan><tspan dy="-5">)-${name}</tspan></text>`;
}
function xlab(cx, y) {
  return `<text x="${cx}" y="${y}" text-anchor="middle" font-size="21" letter-spacing="1.5"><tspan font-style="italic">s</tspan>′/<tspan font-style="italic">σ</tspan><tspan font-style="italic" font-size="14" dy="2.5">s</tspan></text>`;
}
const ov = `<svg id="overlay" width="659" height="638" xmlns="${NS}">
<g font-family="'Liberation Serif','Times New Roman',serif" fill="#000">
<text x="206" y="27" text-anchor="middle" font-size="24">${colTitles[0]}</text>
<text x="531" y="27" text-anchor="middle" font-size="24">${colTitles[1]}</text>
${ylab(28, 107.5, rowNames[0])}
${ylab(28, 320.5, rowNames[1])}
${ylab(28, 516, rowNames[2])}
${xlab(207, 630)}
${xlab(531, 630)}
</g>
<g>
<rect x="84.5" y="211.5" width="553" height="36" fill="#ffffff" stroke="#8c8c8c" stroke-width="1"/>
<circle cx="120" cy="229" r="2.6" fill="none" stroke="#000" stroke-width="1"/>
<path d="M245.5,229L239,225.3L239,232.7Z" fill="none" stroke="#ff00ff" stroke-width="1"/>
<path d="M359.5,229h9M364,224.5v9" fill="none" stroke="#ff0000" stroke-width="2"/>
<line x1="460" y1="229" x2="509" y2="229" stroke="#0000ff" stroke-width="4" stroke-dasharray="16,17"/>
<g font-family="'Liberation Mono','Courier New',monospace" font-size="23" fill="#000">
<text x="137" y="237">${legendLabels[0]}</text>
<text x="266" y="237">${legendLabels[1]}</text>
<text x="387" y="237">${legendLabels[2]}</text>
<text x="512" y="237">${legendLabels[3]}</text>
</g>
</g>
</svg>`;
root.insertAdjacentHTML("beforeend", ov);
</script>
</body>
</html>
